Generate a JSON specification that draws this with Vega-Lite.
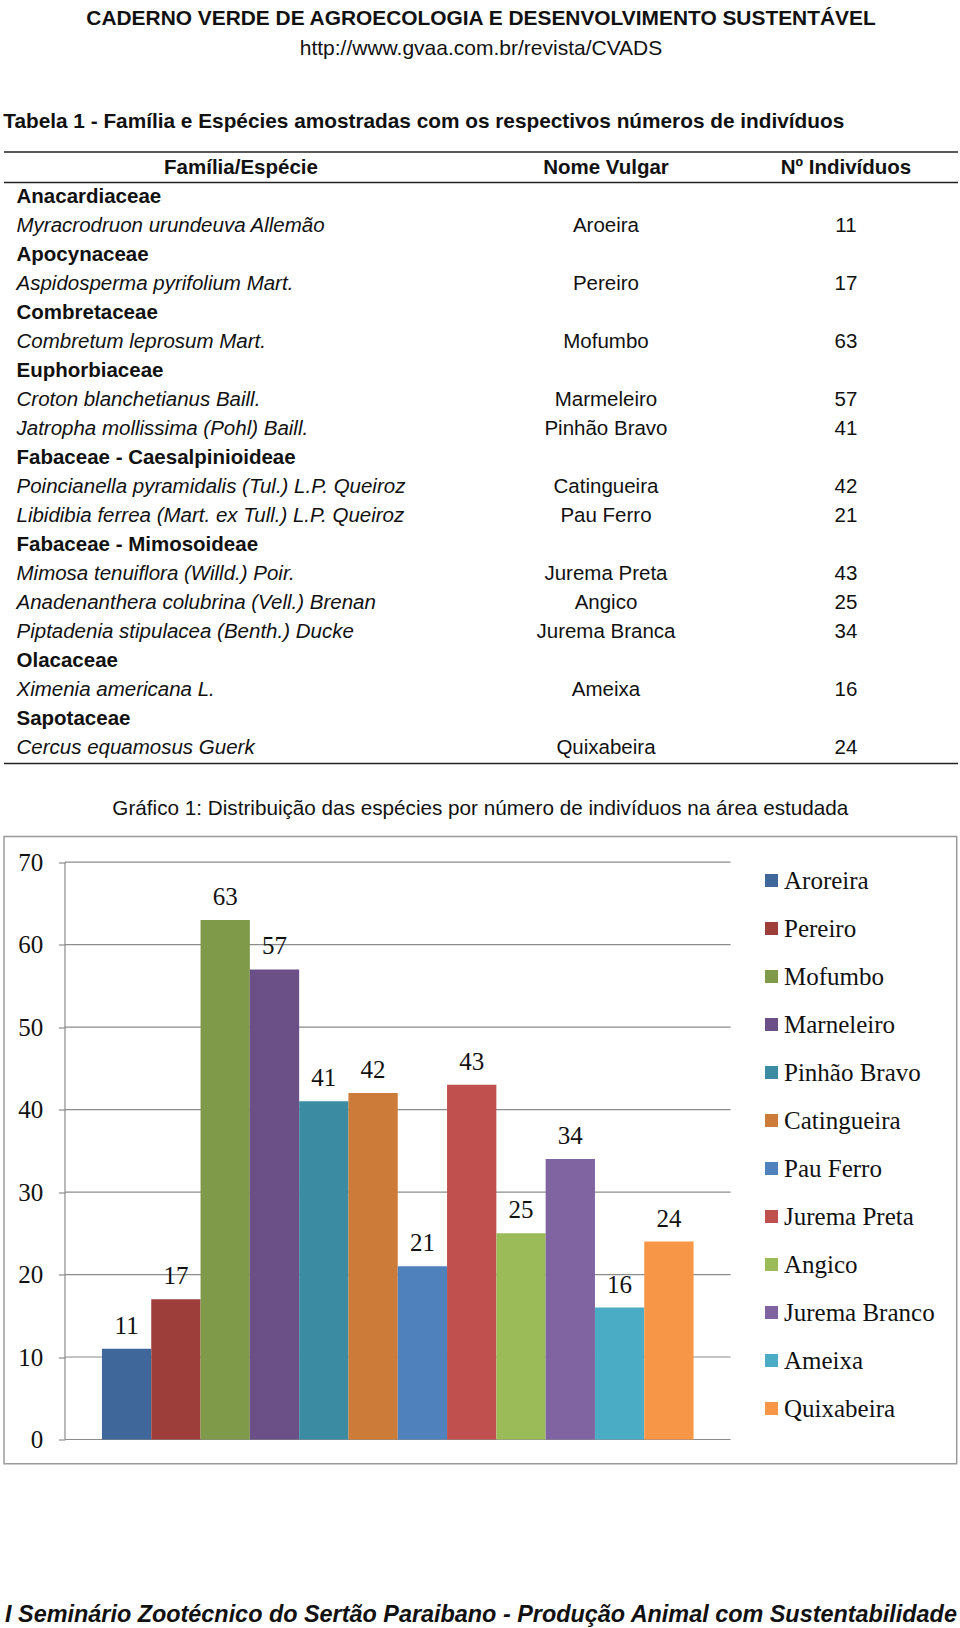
{
  "$schema": "https://vega.github.io/schema/vega-lite/v6.json",
  "background": "white",
  "padding": {"left": 3, "top": 8, "right": 0, "bottom": 0},
  "columns": 1,
  "align": "none",
  "spacing": 32.5,
  "resolve": {"scale": {"color": "independent"}, "legend": {"color": "independent"}},
  "config": {"view": {"stroke": null}, "font": "Liberation Sans, Arial, sans-serif"},
  "title": {
    "text": "CADERNO VERDE DE AGROECOLOGIA E DESENVOLVIMENTO SUSTENTÁVEL",
    "subtitle": "http://www.gvaa.com.br/revista/CVADS",
    "anchor": "middle",
    "font": "Liberation Sans, Arial, sans-serif",
    "fontSize": 20.9,
    "fontWeight": "bold",
    "color": "#111111",
    "subtitleFont": "Liberation Sans, Arial, sans-serif",
    "subtitleFontSize": 21,
    "subtitleColor": "#111111",
    "subtitlePadding": 8.8,
    "offset": 52.4
  },
  "datasets": {
    "tabela": [
      {"linha": 1, "tipo": "familia", "nome": "Anacardiaceae"},
      {"linha": 2, "tipo": "especie", "nome": "Myracrodruon urundeuva Allemão", "vulgar": "Aroeira", "n": 11},
      {"linha": 3, "tipo": "familia", "nome": "Apocynaceae"},
      {"linha": 4, "tipo": "especie", "nome": "Aspidosperma pyrifolium Mart.", "vulgar": "Pereiro", "n": 17},
      {"linha": 5, "tipo": "familia", "nome": "Combretaceae"},
      {"linha": 6, "tipo": "especie", "nome": "Combretum leprosum Mart.", "vulgar": "Mofumbo", "n": 63},
      {"linha": 7, "tipo": "familia", "nome": "Euphorbiaceae"},
      {"linha": 8, "tipo": "especie", "nome": "Croton blanchetianus Baill.", "vulgar": "Marmeleiro", "n": 57},
      {"linha": 9, "tipo": "especie", "nome": "Jatropha mollissima (Pohl) Baill.", "vulgar": "Pinhão Bravo", "n": 41},
      {"linha": 10, "tipo": "familia", "nome": "Fabaceae - Caesalpinioideae"},
      {"linha": 11, "tipo": "especie", "nome": "Poincianella pyramidalis (Tul.) L.P. Queiroz", "vulgar": "Catingueira", "n": 42},
      {"linha": 12, "tipo": "especie", "nome": "Libidibia ferrea (Mart. ex Tull.) L.P. Queiroz", "vulgar": "Pau Ferro", "n": 21},
      {"linha": 13, "tipo": "familia", "nome": "Fabaceae - Mimosoideae"},
      {"linha": 14, "tipo": "especie", "nome": "Mimosa tenuiflora (Willd.) Poir.", "vulgar": "Jurema Preta", "n": 43},
      {"linha": 15, "tipo": "especie", "nome": "Anadenanthera colubrina (Vell.) Brenan", "vulgar": "Angico", "n": 25},
      {"linha": 16, "tipo": "especie", "nome": "Piptadenia stipulacea (Benth.) Ducke", "vulgar": "Jurema Branca", "n": 34},
      {"linha": 17, "tipo": "familia", "nome": "Olacaceae"},
      {"linha": 18, "tipo": "especie", "nome": "Ximenia americana L.", "vulgar": "Ameixa", "n": 16},
      {"linha": 19, "tipo": "familia", "nome": "Sapotaceae"},
      {"linha": 20, "tipo": "especie", "nome": "Cercus equamosus Guerk", "vulgar": "Quixabeira", "n": 24}
    ],
    "cabecalho": [
      {"linha": 0, "c1": "Família/Espécie", "c2": "Nome Vulgar", "c3": "Nº Indivíduos"}
    ],
    "grafico": [
      {"especie": "Aroreira", "individuos": 11},
      {"especie": "Pereiro", "individuos": 17},
      {"especie": "Mofumbo", "individuos": 63},
      {"especie": "Marneleiro", "individuos": 57},
      {"especie": "Pinhão Bravo", "individuos": 41},
      {"especie": "Catingueira", "individuos": 42},
      {"especie": "Pau Ferro", "individuos": 21},
      {"especie": "Jurema Preta", "individuos": 43},
      {"especie": "Angico", "individuos": 25},
      {"especie": "Jurema Branco", "individuos": 34},
      {"especie": "Ameixa", "individuos": 16},
      {"especie": "Quixabeira", "individuos": 24}
    ],
    "grade": [
      {"valor": 0}, {"valor": 10}, {"valor": 20}, {"valor": 30},
      {"valor": 40}, {"valor": 50}, {"valor": 60}, {"valor": 70}
    ],
    "moldura": [{}],
    "rodape": [{"texto": "I Seminário Zootécnico do Sertão Paraibano - Produção Animal com Sustentabilidade"}]
  },
  "concat": [
    {
      "width": 954,
      "height": 611.6,
      "title": {
        "text": "Tabela 1 - Família e Espécies amostradas com os respectivos números de indivíduos",
        "anchor": "start",
        "font": "Liberation Sans, Arial, sans-serif",
        "fontSize": 20.8,
        "fontWeight": "bold",
        "color": "#111111",
        "offset": 18.1
      },
      "layer": [
        {
          "data": {"name": "moldura"},
          "mark": {"type": "rule", "color": "#222222", "strokeWidth": 1.5},
          "encoding": {"y": {"datum": -0.562, "type": "quantitative", "scale": {"domain": [-0.562, 20.53], "reverse": true, "nice": false, "zero": false}, "axis": null}}
        },
        {
          "data": {"name": "moldura"},
          "mark": {"type": "rule", "color": "#222222", "strokeWidth": 1.5},
          "encoding": {"y": {"datum": 0.493, "type": "quantitative", "scale": {"domain": [-0.562, 20.53], "reverse": true, "nice": false, "zero": false}, "axis": null}}
        },
        {
          "data": {"name": "moldura"},
          "mark": {"type": "rule", "color": "#222222", "strokeWidth": 1.5},
          "encoding": {"y": {"datum": 20.53, "type": "quantitative", "scale": {"domain": [-0.562, 20.53], "reverse": true, "nice": false, "zero": false}, "axis": null}}
        },
        {
          "data": {"name": "cabecalho"},
          "mark": {"type": "text", "fontSize": 20.5, "fontWeight": "bold", "align": "center", "baseline": "middle", "color": "#111111"},
          "encoding": {
            "x": {"datum": 24.84, "type": "quantitative", "scale": {"domain": [0, 100], "nice": false, "zero": false}, "axis": null},
            "y": {"field": "linha", "type": "quantitative", "scale": {"domain": [-0.562, 20.53], "reverse": true, "nice": false, "zero": false}, "axis": null},
            "text": {"field": "c1"}
          }
        },
        {
          "data": {"name": "cabecalho"},
          "mark": {"type": "text", "fontSize": 20.5, "fontWeight": "bold", "align": "center", "baseline": "middle", "color": "#111111"},
          "encoding": {
            "x": {"datum": 63.1, "type": "quantitative", "scale": {"domain": [0, 100], "nice": false, "zero": false}, "axis": null},
            "y": {"field": "linha", "type": "quantitative", "scale": {"domain": [-0.562, 20.53], "reverse": true, "nice": false, "zero": false}, "axis": null},
            "text": {"field": "c2"}
          }
        },
        {
          "data": {"name": "cabecalho"},
          "mark": {"type": "text", "fontSize": 20.5, "fontWeight": "bold", "align": "center", "baseline": "middle", "color": "#111111"},
          "encoding": {
            "x": {"datum": 88.26, "type": "quantitative", "scale": {"domain": [0, 100], "nice": false, "zero": false}, "axis": null},
            "y": {"field": "linha", "type": "quantitative", "scale": {"domain": [-0.562, 20.53], "reverse": true, "nice": false, "zero": false}, "axis": null},
            "text": {"field": "c3"}
          }
        },
        {
          "data": {"name": "tabela"},
          "transform": [{"filter": "datum.tipo == 'familia'"}],
          "mark": {"type": "text", "fontSize": 20.5, "fontWeight": "bold", "align": "left", "baseline": "middle", "color": "#111111"},
          "encoding": {
            "x": {"datum": 1.31, "type": "quantitative", "scale": {"domain": [0, 100], "nice": false, "zero": false}, "axis": null},
            "y": {"field": "linha", "type": "quantitative", "scale": {"domain": [-0.562, 20.53], "reverse": true, "nice": false, "zero": false}, "axis": null},
            "text": {"field": "nome"}
          }
        },
        {
          "data": {"name": "tabela"},
          "transform": [{"filter": "datum.tipo == 'especie'"}],
          "mark": {"type": "text", "fontSize": 20.5, "fontStyle": "italic", "align": "left", "baseline": "middle", "color": "#111111"},
          "encoding": {
            "x": {"datum": 1.31, "type": "quantitative", "scale": {"domain": [0, 100], "nice": false, "zero": false}, "axis": null},
            "y": {"field": "linha", "type": "quantitative", "scale": {"domain": [-0.562, 20.53], "reverse": true, "nice": false, "zero": false}, "axis": null},
            "text": {"field": "nome"}
          }
        },
        {
          "data": {"name": "tabela"},
          "transform": [{"filter": "datum.tipo == 'especie'"}],
          "mark": {"type": "text", "fontSize": 20.5, "align": "center", "baseline": "middle", "color": "#111111"},
          "encoding": {
            "x": {"datum": 63.1, "type": "quantitative", "scale": {"domain": [0, 100], "nice": false, "zero": false}, "axis": null},
            "y": {"field": "linha", "type": "quantitative", "scale": {"domain": [-0.562, 20.53], "reverse": true, "nice": false, "zero": false}, "axis": null},
            "text": {"field": "vulgar"}
          }
        },
        {
          "data": {"name": "tabela"},
          "transform": [{"filter": "datum.tipo == 'especie'"}],
          "mark": {"type": "text", "fontSize": 20.5, "align": "center", "baseline": "middle", "color": "#111111"},
          "encoding": {
            "x": {"datum": 88.26, "type": "quantitative", "scale": {"domain": [0, 100], "nice": false, "zero": false}, "axis": null},
            "y": {"field": "linha", "type": "quantitative", "scale": {"domain": [-0.562, 20.53], "reverse": true, "nice": false, "zero": false}, "axis": null},
            "text": {"field": "n"}
          }
        }
      ]
    },
    {
      "width": 952.7,
      "height": 627.3,
      "view": {"stroke": "#9a9a9a", "strokeWidth": 1.5},
      "title": {
        "text": "Gráfico 1: Distribuição das espécies por número de indivíduos na área estudada",
        "anchor": "middle",
        "frame": "bounds",
        "font": "Liberation Sans, Arial, sans-serif",
        "fontSize": 20.7,
        "fontWeight": "normal",
        "color": "#111111",
        "offset": 16.5
      },
      "layer": [
        {
          "data": {"name": "grade"},
          "mark": {"type": "rule", "color": "#8c8c8c", "strokeWidth": 1.2},
          "encoding": {
            "x": {"datum": "Aroreira", "type": "nominal", "bandPosition": -0.75, "scale": {"domain": ["Aroreira", "Pereiro", "Mofumbo", "Marneleiro", "Pinhão Bravo", "Catingueira", "Pau Ferro", "Jurema Preta", "Angico", "Jurema Branco", "Ameixa", "Quixabeira"], "range": [97.95, 689.55], "paddingInner": 0, "paddingOuter": 0}, "axis": null},
            "x2": {"datum": "Quixabeira", "bandPosition": 1.75},
            "y": {"field": "valor", "type": "quantitative", "scale": {"domain": [-2.947, 73.116], "nice": false, "zero": false}}
          }
        },
        {
          "data": {"name": "moldura"},
          "mark": {"type": "rule", "color": "#8c8c8c", "strokeWidth": 1.2},
          "encoding": {
            "x": {"datum": "Aroreira", "type": "nominal", "bandPosition": -0.75, "scale": {"domain": ["Aroreira", "Pereiro", "Mofumbo", "Marneleiro", "Pinhão Bravo", "Catingueira", "Pau Ferro", "Jurema Preta", "Angico", "Jurema Branco", "Ameixa", "Quixabeira"], "range": [97.95, 689.55], "paddingInner": 0, "paddingOuter": 0}, "axis": null},
            "y": {"datum": 0, "type": "quantitative", "scale": {"domain": [-2.947, 73.116], "nice": false, "zero": false}},
            "y2": {"datum": 70}
          }
        },
        {
          "data": {"name": "grafico"},
          "mark": {"type": "bar"},
          "encoding": {
            "x": {"field": "especie", "type": "nominal", "sort": null, "scale": {"domain": ["Aroreira", "Pereiro", "Mofumbo", "Marneleiro", "Pinhão Bravo", "Catingueira", "Pau Ferro", "Jurema Preta", "Angico", "Jurema Branco", "Ameixa", "Quixabeira"], "range": [97.95, 689.55], "paddingInner": 0, "paddingOuter": 0}, "axis": null},
            "y": {
              "field": "individuos",
              "type": "quantitative",
              "scale": {"domain": [-2.947, 73.116], "nice": false, "zero": false},
              "axis": {
                "values": [0, 10, 20, 30, 40, 50, 60, 70],
                "title": null,
                "grid": false,
                "domain": false,
                "offset": -60.97,
                "tickColor": "#8c8c8c",
                "tickWidth": 1.2,
                "tickSize": 6.6,
                "labelFont": "Liberation Serif",
                "labelFontSize": 25,
                "labelColor": "#111111",
                "labelPadding": 15.5
              }
            },
            "y2": {"datum": 0},
            "color": {
              "field": "especie",
              "type": "nominal",
              "sort": null,
              "scale": {
                "domain": ["Aroreira", "Pereiro", "Mofumbo", "Marneleiro", "Pinhão Bravo", "Catingueira", "Pau Ferro", "Jurema Preta", "Angico", "Jurema Branco", "Ameixa", "Quixabeira"],
                "range": ["#3F679A", "#9E3E3B", "#7F9A48", "#6A5087", "#3B8CA3", "#CD7B38", "#4F81BD", "#C0504D", "#9BBB59", "#8064A2", "#4BACC6", "#F79646"]
              },
              "legend": {
                "orient": "none",
                "legendX": 755,
                "legendY": 31.5,
                "title": null,
                "padding": 0,
                "labelFont": "Liberation Serif",
                "labelFontSize": 25,
                "labelColor": "#111111",
                "labelLimit": 300,
                "labelOffset": 0,
                "symbolType": "square",
                "symbolSize": 169,
                "symbolStrokeWidth": 0,
                "rowPadding": 22
              }
            }
          }
        },
        {
          "data": {"name": "grafico"},
          "mark": {"type": "text", "font": "Liberation Serif", "fontSize": 25, "baseline": "alphabetic", "dy": -15, "color": "#111111"},
          "encoding": {
            "x": {"field": "especie", "type": "nominal", "sort": null, "scale": {"domain": ["Aroreira", "Pereiro", "Mofumbo", "Marneleiro", "Pinhão Bravo", "Catingueira", "Pau Ferro", "Jurema Preta", "Angico", "Jurema Branco", "Ameixa", "Quixabeira"], "range": [97.95, 689.55], "paddingInner": 0, "paddingOuter": 0}, "axis": null},
            "y": {"field": "individuos", "type": "quantitative", "scale": {"domain": [-2.947, 73.116], "nice": false, "zero": false}},
            "text": {"field": "individuos"}
          }
        }
      ]
    },
    {
      "width": 954,
      "height": 234,
      "data": {"name": "rodape"},
      "mark": {"type": "text", "fontSize": 23.4, "fontWeight": "bold", "fontStyle": "italic", "color": "#111111"},
      "encoding": {"text": {"field": "texto"}}
    }
  ]
}
